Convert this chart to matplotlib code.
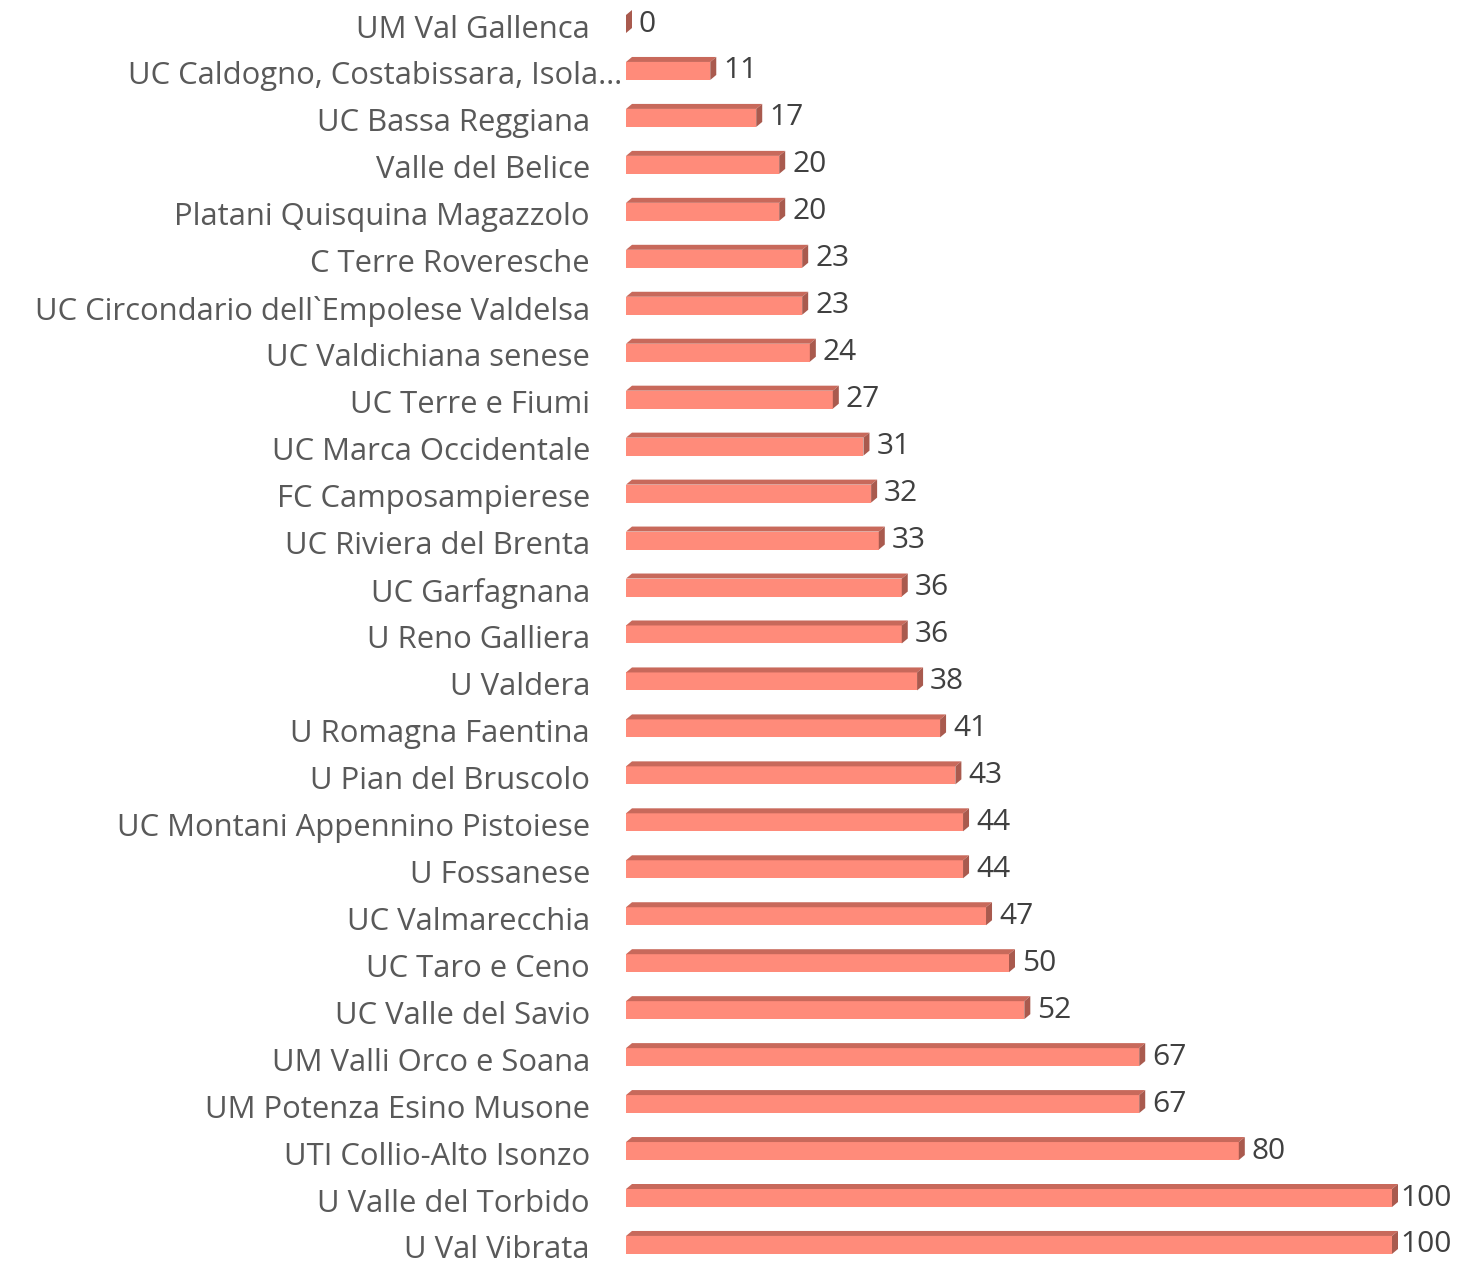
import matplotlib.pyplot as plt
from matplotlib.patches import Polygon
from matplotlib.transforms import offset_copy

labels = [
    "UM Val Gallenca",
    "UC Caldogno, Costabissara, Isola…",
    "UC Bassa Reggiana",
    "Valle del Belice",
    "Platani Quisquina Magazzolo",
    "C Terre Roveresche",
    "UC Circondario dell`Empolese Valdelsa",
    "UC Valdichiana senese",
    "UC Terre e Fiumi",
    "UC Marca Occidentale",
    "FC Camposampierese",
    "UC Riviera del Brenta",
    "UC Garfagnana",
    "U Reno Galliera",
    "U Valdera",
    "U Romagna Faentina",
    "U Pian del Bruscolo",
    "UC Montani Appennino Pistoiese",
    "U Fossanese",
    "UC Valmarecchia",
    "UC Taro e Ceno",
    "UC Valle del Savio",
    "UM Valli Orco e Soana",
    "UM Potenza Esino Musone",
    "UTI Collio-Alto Isonzo",
    "U Valle del Torbido",
    "U Val Vibrata",
]
values = [0, 11, 17, 20, 20, 23, 23, 24, 27, 31, 32, 33, 36, 36, 38, 41, 43,
          44, 44, 47, 50, 52, 67, 67, 80, 100, 100]

front_col = "#FF8B7A"
top_col = "#C8695B"
side_col = "#A95A4E"
font = "Open Sans"

W, H = 1458, 1264
fig = plt.figure(figsize=(W / 100, H / 100), dpi=100)
# axes: value 0 at x=626px, value 100 at x=1392px
ax = fig.add_axes([626 / W, 0, 766 / W, 1])
row_px = 46.96
y0_px = 24
ax.set_xlim(0, 100)
ax.set_ylim((H - y0_px) / row_px, -y0_px / row_px)

px_x = 100 / 766.0
h = 18 / row_px
dx = 6 * px_x
dy = 5 / row_px

pos = list(range(len(values)))
ax.barh(pos, values, height=h, color=front_col, linewidth=0)
for y, v in zip(pos, values):
    top = y - h / 2
    bot = y + h / 2
    ax.add_patch(Polygon([(0, top), (v, top), (v + dx, top - dy), (dx, top - dy)],
                         closed=True, color=top_col, linewidth=0, clip_on=False))
    ax.add_patch(Polygon([(v, top), (v, bot), (v + dx, bot - dy), (v + dx, top - dy)],
                         closed=True, color=side_col, linewidth=0, clip_on=False))
    gap = 2 if v >= 100 else 7
    ax.text(v + dx + gap * px_x, y, str(v), ha="left", va="center",
            fontsize=21.5, color="#404040", family=font, clip_on=False)

ax.set_yticks(pos)
ax.set_yticklabels(labels, fontsize=22.3, color="#595959", family=font)
ax.tick_params(axis="y", length=0, pad=26)
ax.set_xticks([])
for s in ax.spines.values():
    s.set_visible(False)

# the truncated label overflows into the gap
for t in ax.get_yticklabels():
    if t.get_text().startswith("UC Caldogno"):
        t.set_transform(offset_copy(t.get_transform(), fig=fig, x=32, y=-2, units="dots"))
    else:
        t.set_transform(offset_copy(t.get_transform(), fig=fig, x=0, y=-2, units="dots"))

fig.savefig("out.png", dpi=100)
